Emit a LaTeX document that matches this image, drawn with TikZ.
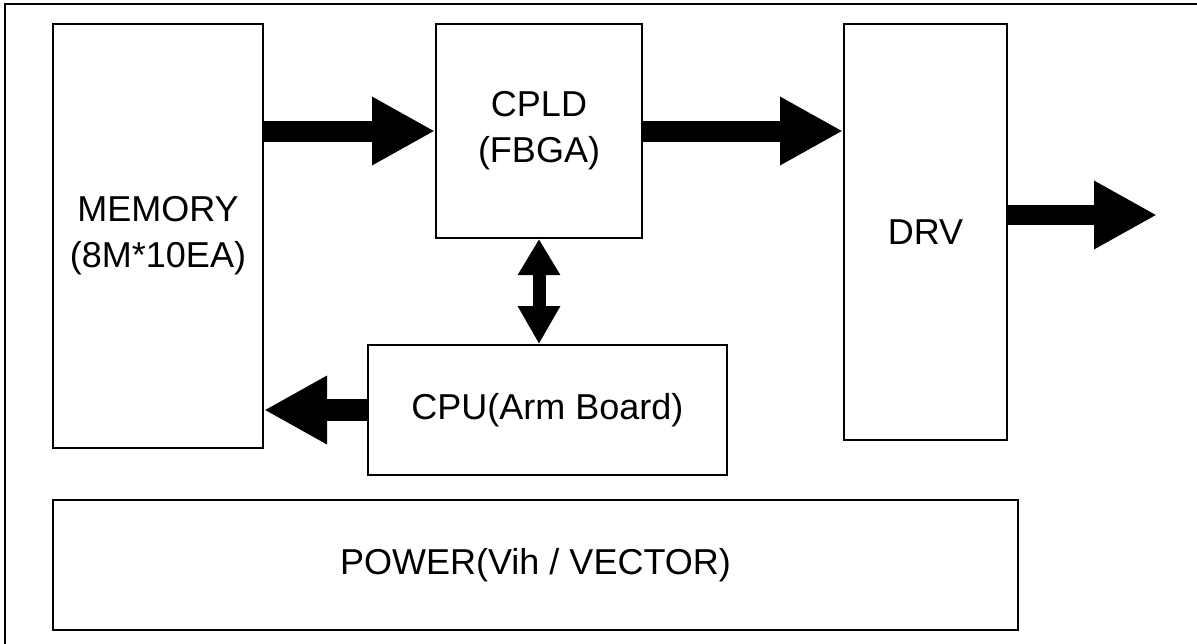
\documentclass[tikz,border=0pt]{standalone}
\usepackage{fontspec}
\setmainfont{Liberation Sans}
\usetikzlibrary{arrows.meta}

\tikzset{
  blockbox/.style={draw=black, line width=2pt, inner sep=0pt, align=center,
    font=\fontsize{36}{46}\selectfont},
  fatarrow/.style={line width=21pt, -{Triangle[length=63pt, width=64pt]}},
  thinpair/.style={line width=13pt, {Triangle[length=36pt, width=40pt]}-{Triangle[length=38pt, width=40pt]}}
}

\begin{document}
\begin{tikzpicture}[x=1pt, y=-1pt]
 \clip (0,0) rectangle (1197,643);
\fill[white] (0,0) rectangle (1197,643);
\draw[line width=2.5pt] (5,4) rectangle (1220,680);

% blocks
\node[blockbox, minimum width=210pt, minimum height=424pt] (mem) at (158,236) {MEMORY\\(8M*10EA)};
\node[blockbox, minimum width=206pt, minimum height=214pt] (cpld) at (539,131) {CPLD\\(FBGA)};
\node[blockbox, minimum width=163pt, minimum height=416pt] (drv) at (925.5,232) {DRV};
\node[blockbox, minimum width=359pt, minimum height=130pt] (cpu) at (547.5,410) {CPU(Arm Board)};
\node[blockbox, minimum width=965pt, minimum height=130pt] (power) at (535.5,565) {POWER(Vih / VECTOR)};

\coordinate (out) at (1157,215);

% buses
\draw[fatarrow] (mem.east |- cpld.west) -- (cpld.west);
\draw[fatarrow] (cpld.east) -- (cpld.east -| drv.west);
\draw[fatarrow, line width=20pt] (drv.east |- out) -- (out);
\draw[fatarrow, line width=22pt] (cpu.west) -- (cpu.west -| mem.east);
\draw[thinpair] (cpld.south) -- (cpld.south |- cpu.north);

\end{tikzpicture}
\end{document}
